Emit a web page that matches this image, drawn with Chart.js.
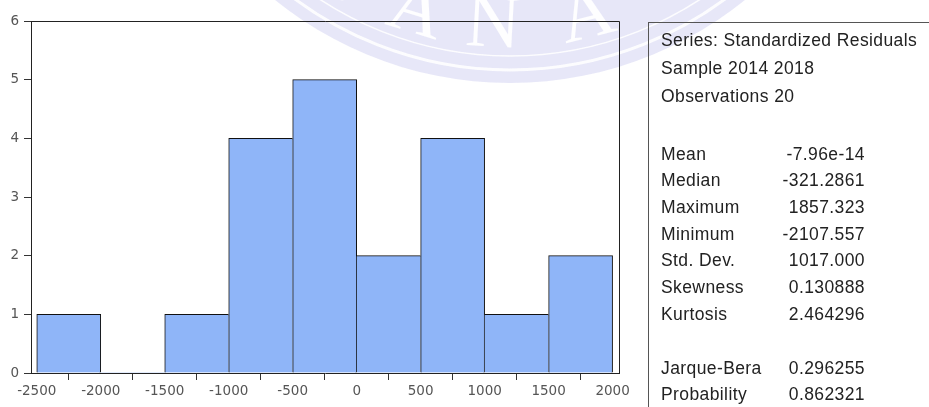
<!DOCTYPE html>
<html>
<head>
<meta charset="utf-8">
<script src="https://cdn.jsdelivr.net/npm/chart.js@4.4.1/dist/chart.umd.min.js"></script>
<style>
  html, body { margin: 0; padding: 0; background: #fff; }
  #wrap { position: relative; width: 929px; height: 407px; overflow: hidden; }
  #c { position: absolute; left: 0; top: 0; }
  #stats {
    position: absolute; left: 648px; top: 22px; width: 300px; height: 400px;
    border-left: 1px solid #555; border-top: 1px solid #555;
    font-family: 'Liberation Sans', Arial, sans-serif; font-size: 17.5px;
    letter-spacing: 0.4px; color: #222;
  }
  .lab, .val { position: absolute; height: 20px; line-height: 20px; white-space: nowrap; }
  .lab { left: 12px; }
  .val { left: 0; width: 216px; text-align: right; }
</style>
</head>
<body>
<div id="wrap">
  <canvas id="c" width="929" height="407"></canvas>
  <div id="stats"></div>
</div>
<script>
// histogram bins (edges) and counts
const binEdges = [-2500, -2000, -1500, -1000, -500, 0, 500, 1000, 1500, 2000];
const counts = [1, 0, 1, 4, 5, 2, 4, 1, 2];
const xTicks = [-2500, -2000, -1500, -1000, -500, 0, 500, 1000, 1500, 2000];
const yTicks = [0, 1, 2, 3, 4, 5, 6];

// stats panel
const headerLines = ['Series: Standardized Residuals', 'Sample 2014 2018', 'Observations 20'];
const statLabels = ['Mean', 'Median', 'Maximum', 'Minimum', 'Std. Dev.', 'Skewness', 'Kurtosis'];
const statValues = ['-7.96e-14', '-321.2861', '1857.323', '-2107.557', '1017.000', '0.130888', '2.464296'];
const testLabels = ['Jarque-Bera', 'Probability'];
const testValues = ['0.296255', '0.862321'];

// build the text box
const box = document.getElementById('stats');
function addLine(cls, text, centerY) {
  const d = document.createElement('div');
  d.className = cls;
  d.textContent = text;
  d.style.top = (centerY - 9.5 - 23) + 'px';
  box.appendChild(d);
}
headerLines.forEach((t, i) => addLine('lab', t, 39 + i * 28));
statLabels.forEach((t, i) => {
  addLine('lab', t, 153 + i * 26.7);
  addLine('val', statValues[i], 153 + i * 26.7);
});
testLabels.forEach((t, i) => {
  addLine('lab', t, 367 + i * 26);
  addLine('val', testValues[i], 367 + i * 26);
});

const points = counts.map((c, i) => ({ x: (binEdges[i] + binEdges[i + 1]) / 2, y: c }));

// faint seal watermark behind everything
const watermark = {
  id: 'watermark',
  beforeDraw(chart) {
    const ctx = chart.ctx;
    const cx = 510, cy = -291, R = 374;
    ctx.save();
    ctx.fillStyle = 'rgba(212,212,242,0.55)';
    ctx.beginPath(); ctx.arc(cx, cy, R, 0, Math.PI * 2); ctx.fill();
    ctx.strokeStyle = 'rgba(255,255,255,0.9)';
    ctx.lineWidth = 3;
    ctx.beginPath(); ctx.arc(cx, cy, R - 13, 0, Math.PI * 2); ctx.stroke();
    ctx.lineWidth = 1.5;
    ctx.beginPath(); ctx.arc(cx, cy, R - 27, 0, Math.PI * 2); ctx.stroke();
    ctx.font = '76px "Liberation Serif", serif';
    ctx.textAlign = 'center';
    ctx.textBaseline = 'alphabetic';
    ctx.fillStyle = 'rgba(255,255,255,0.95)';
    const r = 338;
    [['S', -178], ['A', -100], ['N', -18], ['A', 82]].forEach(([ch, dx]) => {
      const th = Math.asin(dx / r);
      const x = cx + r * Math.sin(th), y = cy + r * Math.cos(th);
      ctx.save();
      ctx.translate(x, y);
      ctx.rotate(-th);
      ctx.fillText(ch, 0, 0);
      ctx.restore();
    });
    ctx.restore();
  }
};

// top and right edges of the plot frame
const frame = {
  id: 'frame',
  afterDraw(chart) {
    const a = chart.chartArea, ctx = chart.ctx;
    ctx.save();
    ctx.strokeStyle = '#222';
    ctx.lineWidth = 1;
    ctx.beginPath();
    ctx.moveTo(a.left, a.top + 0.5);
    ctx.lineTo(a.right + 0.5, a.top + 0.5);
    ctx.lineTo(a.right + 0.5, a.bottom);
    ctx.stroke();
    ctx.restore();
  }
};

const axisGrid = { drawOnChartArea: false, drawTicks: true, tickLength: 7, color: '#333' };

new Chart(document.getElementById('c'), {
  type: 'bar',
  data: {
    datasets: [{
      data: points,
      backgroundColor: '#8fb5f8',
      borderColor: '#111',
      borderWidth: ctx => {
        const i = ctx.dataIndex, h = counts[i];
        return {
          top: 1, bottom: 0,
          left: (i === 0 || counts[i - 1] < h) ? 1 : 0,
          right: (i === counts.length - 1 || h >= counts[i + 1]) ? 1 : 0
        };
      },
      barPercentage: 1,
      categoryPercentage: 1
    }]
  },
  options: {
    responsive: false,
    animation: false,
    devicePixelRatio: 1,
    layout: { padding: { top: 21, right: 310, left: 0, bottom: 0 } },
    plugins: { legend: { display: false }, tooltip: { enabled: false } },
    scales: {
      x: {
        type: 'linear',
        min: -2545,
        max: 2050,
        offset: false,
        afterBuildTicks: s => { s.ticks = xTicks.map(v => ({ value: v })); },
        afterFit: s => { s.height = 34; },
        grid: axisGrid,
        border: { color: '#222' },
        ticks: {
          color: '#555', padding: 3, maxRotation: 0, autoSkip: false,
          font: { family: 'DejaVu Sans', size: 13.5 },
          callback: v => String(v)
        }
      },
      y: {
        min: 0,
        max: 6,
        afterBuildTicks: s => { s.ticks = yTicks.map(v => ({ value: v })); },
        afterFit: s => { s.width = 31; },
        grid: axisGrid,
        border: { color: '#222' },
        ticks: {
          color: '#555', padding: 5,
          font: { family: 'DejaVu Sans', size: 13.5 },
          callback: v => String(v)
        }
      }
    }
  },
  plugins: [watermark, frame]
});
</script>
</body>
</html>
